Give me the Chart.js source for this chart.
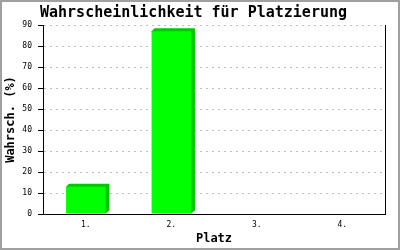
<!DOCTYPE html>
<html>
<head>
<meta charset="utf-8">
<script src="https://cdn.jsdelivr.net/npm/chart.js@4/dist/chart.umd.min.js"></script>
<style>
  html, body { margin: 0; padding: 0; background: #fff; }
  #wrap { position: relative; width: 400px; height: 250px; }
</style>
</head>
<body>
<div id="wrap"><canvas id="PlatzChart"></canvas></div>
<script>
const categories = ["1.", "2.", "3.", "4."];
const wahrscheinlichkeit = [13, 87, 0, 0];
const yTicks = [0, 10, 20, 30, 40, 50, 60, 70, 80, 90];

const monoFont = "'DejaVu Sans Mono', 'Liberation Mono', monospace";

// white background + grey frame
const framePlugin = {
  id: "frame",
  beforeDraw(chart) {
    const { ctx, width, height } = chart;
    ctx.save();
    ctx.fillStyle = "#ffffff";
    ctx.fillRect(0, 0, width, height);
    ctx.strokeStyle = "#a0a0a0";
    ctx.lineWidth = 2;
    ctx.strokeRect(1, 1, width - 2, height - 2);
    ctx.restore();
  },
};

// black tick marks left of the y axis
const tickPlugin = {
  id: "yTickMarks",
  afterDraw(chart) {
    const { ctx, chartArea } = chart;
    const y = chart.scales.y;
    ctx.save();
    ctx.fillStyle = "#000";
    yTicks.forEach((v) => {
      const py = Math.round(y.getPixelForValue(v));
      ctx.fillRect(chartArea.left - 5, py, 5, 1);
    });
    ctx.restore();
  },
};

// 3D look: darker side and top behind each bar
const shadowPlugin = {
  id: "barShadow",
  beforeDatasetsDraw(chart) {
    const { ctx } = chart;
    const d = 3;
    chart.getDatasetMeta(0).data.forEach((bar) => {
      const { x, y, base, width } = bar.getProps(["x", "y", "base", "width"], true);
      if (base - y < 1) return;
      const l = x - width / 2;
      const r = x + width / 2;
      ctx.save();
      ctx.fillStyle = "#00c800";
      ctx.beginPath();
      ctx.moveTo(l, y);
      ctx.lineTo(l + d, y - d);
      ctx.lineTo(r + d + 1, y - d);
      ctx.lineTo(r + d + 1, base - d);
      ctx.lineTo(r, base);
      ctx.closePath();
      ctx.fill();
      ctx.restore();
    });
  },
};

const config = {
  type: "bar",
  data: {
    labels: categories,
    datasets: [
      {
        data: wahrscheinlichkeit,
        backgroundColor: "#00ff00",
        borderWidth: 0,
        barPercentage: 0.46,
        categoryPercentage: 1,
      },
    ],
  },
  options: {
    responsive: true,
    maintainAspectRatio: false,
    animation: false,
    layout: { padding: { left: 2, right: 15, top: 0, bottom: 0 } },
    plugins: {
      legend: { display: false },
      tooltip: { enabled: false },
      title: {
        display: true,
        text: "Wahrscheinlichkeit für Platzierung",
        color: "#000",
        font: { family: monoFont, size: 15, weight: "bold", lineHeight: 1 },
        padding: { top: 6, bottom: 4 },
      },
    },
    scales: {
      x: {
        grid: { display: false, drawTicks: false },
        border: { display: true, color: "#000", width: 1 },
        ticks: {
          color: "#000",
          padding: 6,
          font: { family: monoFont, size: 8 },
        },
        title: {
          display: true,
          text: "Platz",
          color: "#000",
          font: { family: monoFont, size: 12, weight: "bold" },
          padding: { top: 4, bottom: 4 },
        },
        afterFit(scale) {
          scale.height = 36;
        },
      },
      y: {
        min: 0,
        max: 90,
        afterBuildTicks(scale) {
          scale.ticks = yTicks.map((v) => ({ value: v }));
        },
        grid: {
          color: "#c0c0c0",
          drawTicks: true,
          tickLength: 5,
          tickColor: "rgba(0,0,0,0)",
        },
        border: { display: true, color: "#000", width: 1, dash: [2, 4] },
        ticks: {
          color: "#000",
          padding: 6,
          font: { family: monoFont, size: 8 },
        },
        title: {
          display: true,
          text: "Wahrsch. (%)",
          color: "#000",
          font: { family: monoFont, size: 12, weight: "bold" },
          padding: { top: 2, bottom: 2 },
        },
        afterFit(scale) {
          scale.width = 41;
        },
      },
      y2: {
        position: "right",
        min: 0,
        max: 90,
        grid: { drawOnChartArea: false, drawTicks: false },
        border: { display: true, color: "#000", width: 1 },
        ticks: { display: false },
        afterFit(scale) {
          scale.width = 0;
        },
      },
    },
  },
  plugins: [framePlugin, shadowPlugin, tickPlugin],
};

new Chart(document.getElementById("PlatzChart"), config);
</script>
</body>
</html>
